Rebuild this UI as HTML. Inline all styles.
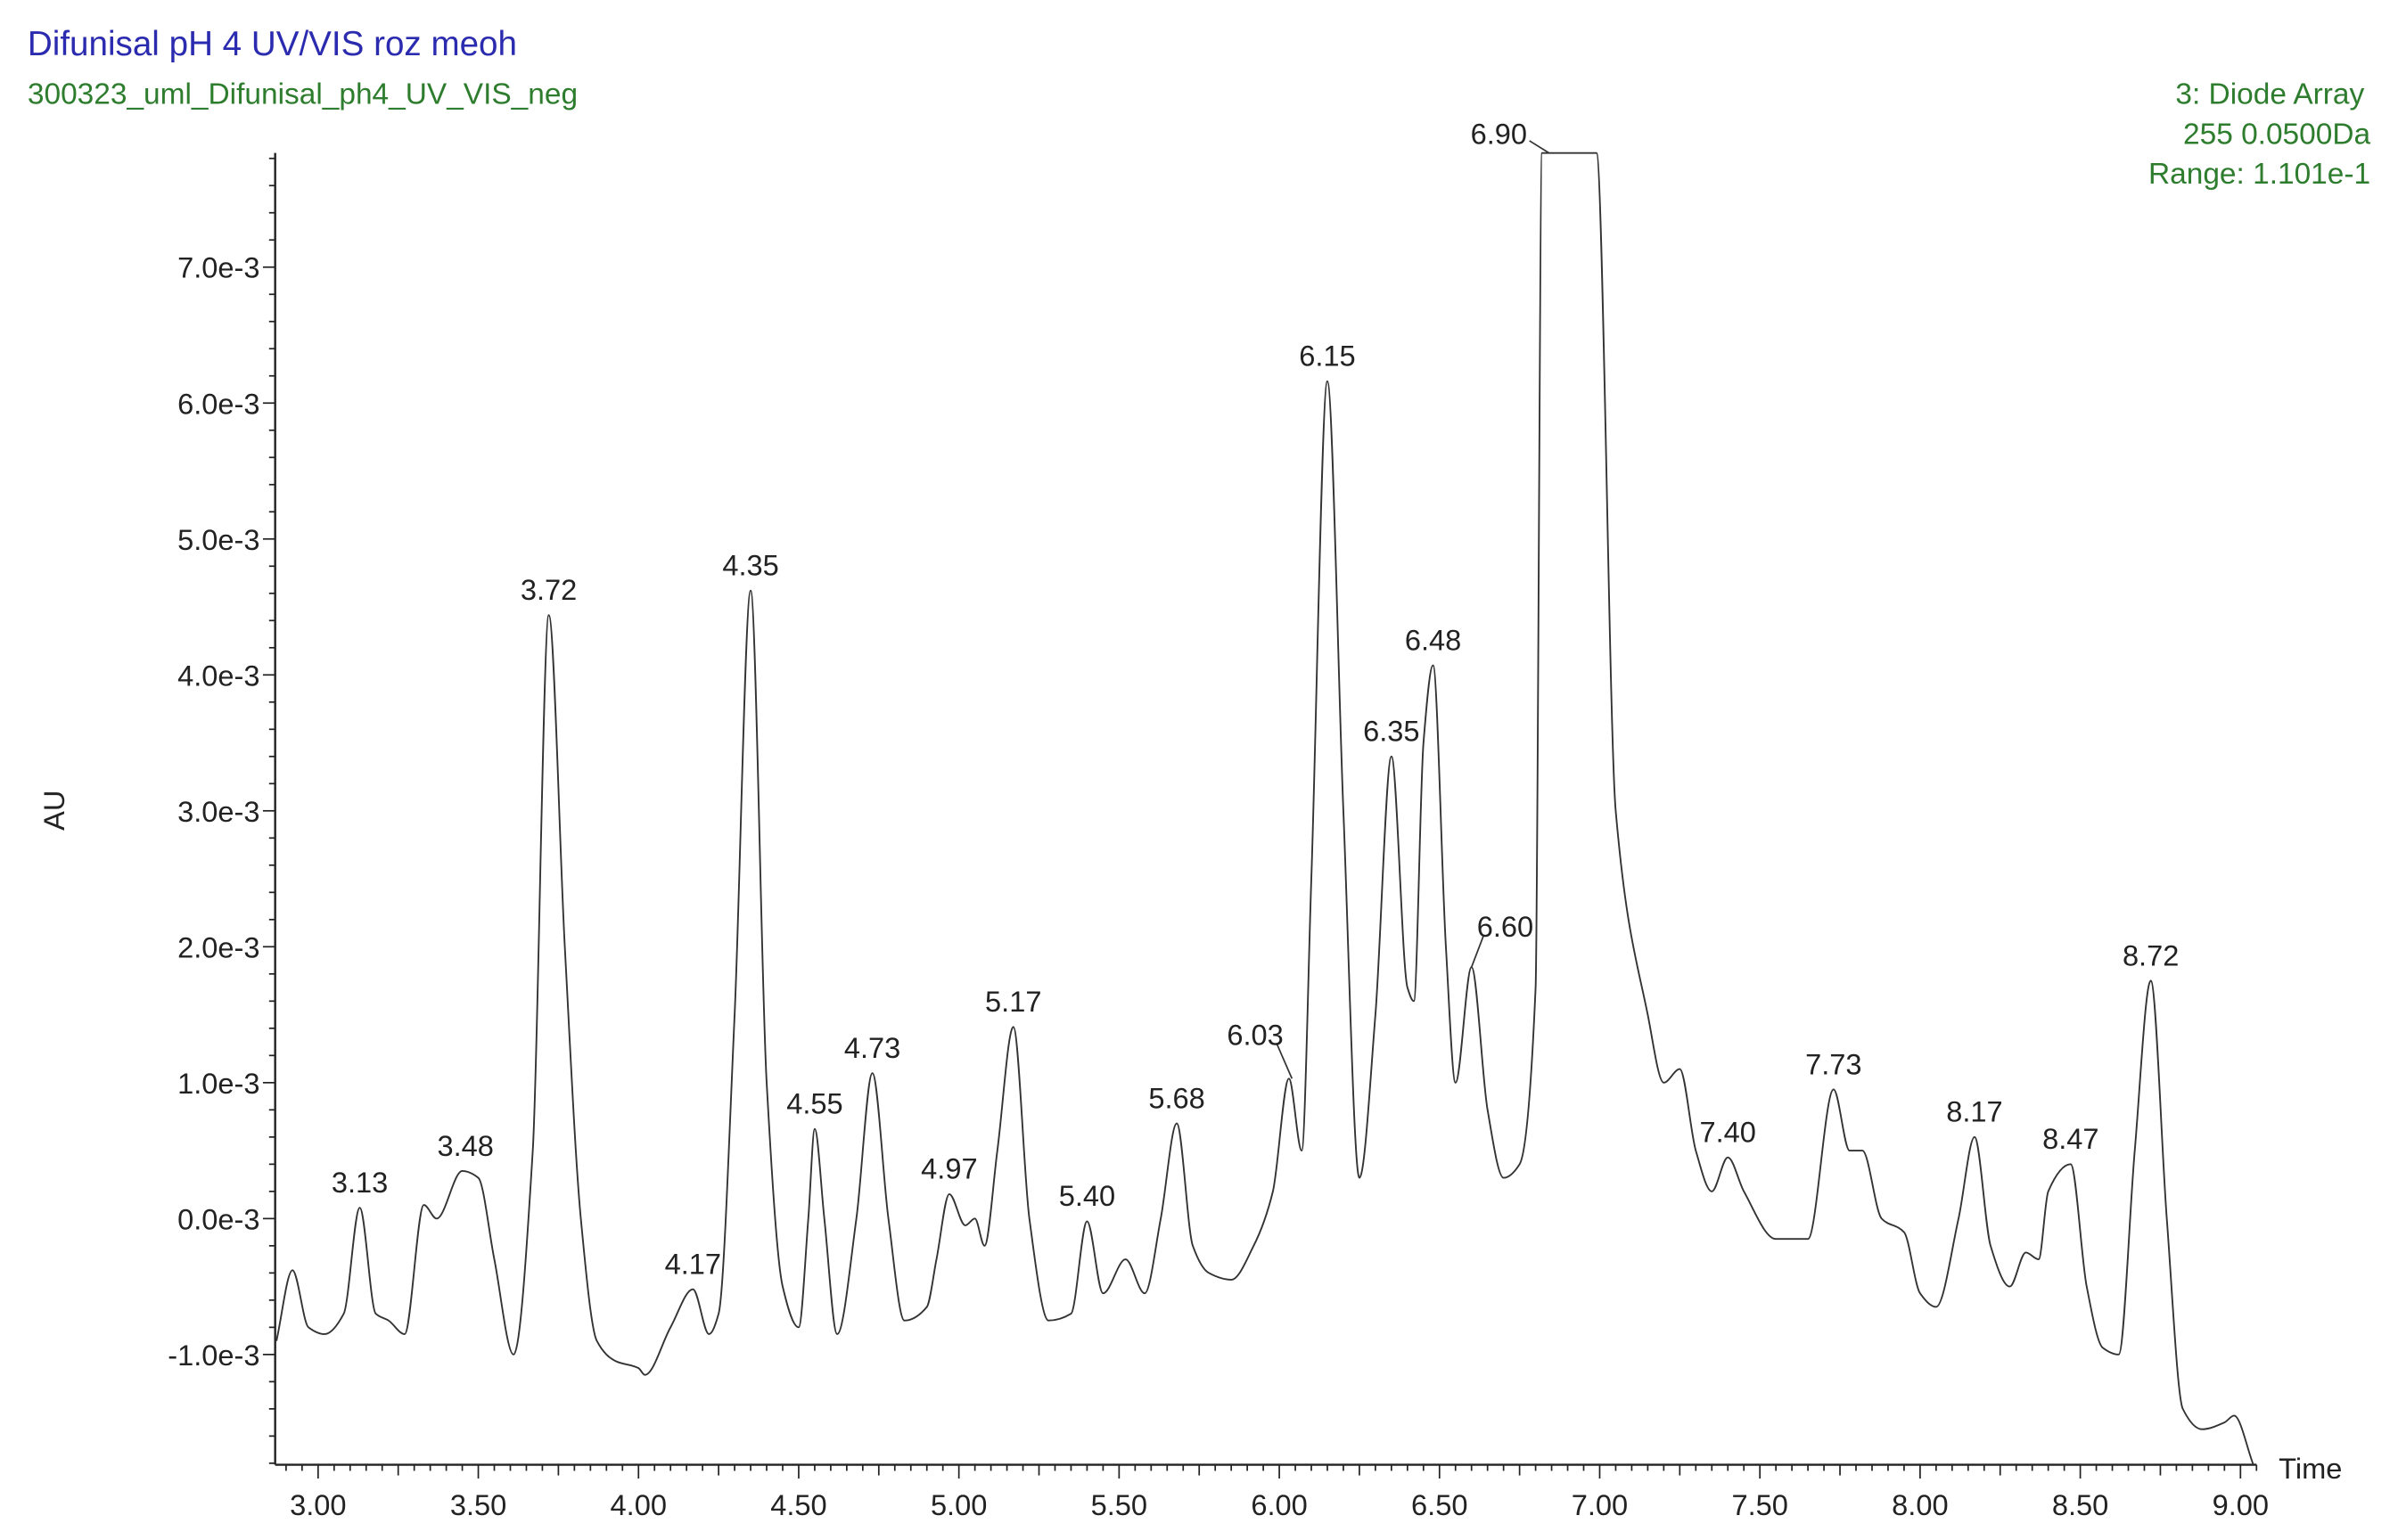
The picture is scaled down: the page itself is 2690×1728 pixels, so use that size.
<!DOCTYPE html>
<html><head><meta charset="utf-8"><style>
html,body{margin:0;padding:0;background:#fff;}
svg{display:block;font-family:"Liberation Sans",Arial,sans-serif;}
</style></head><body>
<svg id="chart" width="2690" height="1728" viewBox="0 0 1568 1007.2" xmlns="http://www.w3.org/2000/svg">
<text x="18" y="36" font-size="22.5" fill="#2b2bb0">Difunisal pH 4 UV/VIS roz meoh</text>
<text x="18" y="68" font-size="19.5" fill="#2e7d2e">300323_uml_Difunisal_ph4_UV_VIS_neg</text>
<text x="1546" y="68" font-size="19.5" fill="#2e7d2e" text-anchor="end">3: Diode Array</text>
<text x="1550" y="94" font-size="19.5" fill="#2e7d2e" text-anchor="end">255 0.0500Da</text>
<text x="1550" y="120" font-size="19.5" fill="#2e7d2e" text-anchor="end">Range: 1.101e-1</text>
<text transform="translate(42,530) rotate(-90)" font-size="19" fill="#222" text-anchor="middle">AU</text>
<text x="1490" y="967" font-size="19" fill="#222">Time</text>
<g id="axes"></g>
<g id="series"></g>
<g id="peaks"></g>
</svg>
<script>
const times=[2.87,2.92,2.97,3.02,3.08,3.13,3.18,3.22,3.27,3.33,3.37,3.45,3.50,3.55,3.61,3.67,3.72,3.77,3.82,3.87,3.93,4.00,4.02,4.10,4.17,4.22,4.25,4.30,4.35,4.40,4.45,4.50,4.53,4.55,4.58,4.62,4.68,4.73,4.78,4.83,4.90,4.93,4.97,5.02,5.05,5.08,5.12,5.17,5.22,5.28,5.35,5.40,5.45,5.52,5.58,5.63,5.68,5.73,5.78,5.85,5.92,5.98,6.03,6.07,6.10,6.15,6.20,6.25,6.30,6.35,6.40,6.42,6.45,6.48,6.52,6.55,6.60,6.65,6.70,6.75,6.80,6.82,6.83,6.98,6.99,7.05,7.15,7.20,7.25,7.30,7.35,7.40,7.45,7.55,7.65,7.73,7.78,7.82,7.88,7.95,8.00,8.05,8.12,8.17,8.22,8.28,8.33,8.37,8.40,8.47,8.52,8.57,8.62,8.67,8.72,8.77,8.82,8.88,8.95,8.98,9.04];
const values=[-0.9,-0.38,-0.8,-0.85,-0.7,0.08,-0.7,-0.75,-0.85,0.1,0.0,0.35,0.3,-0.3,-1.0,0.5,4.44,2.0,0.0,-0.9,-1.05,-1.1,-1.15,-0.8,-0.52,-0.85,-0.7,1.5,4.62,1.0,-0.5,-0.8,0.0,0.66,0.0,-0.85,0.0,1.07,0.0,-0.75,-0.65,-0.3,0.18,-0.05,0.0,-0.2,0.5,1.41,0.0,-0.75,-0.7,-0.02,-0.55,-0.3,-0.55,0.0,0.7,-0.2,-0.4,-0.45,-0.2,0.2,1.03,0.5,2.5,6.16,3.0,0.3,1.5,3.4,1.7,1.6,3.5,4.07,2.0,1.0,1.85,0.8,0.3,0.4,1.7,7.84,7.84,7.84,7.84,3.0,1.5,1.0,1.1,0.5,0.2,0.45,0.2,-0.15,-0.15,0.95,0.5,0.5,0.0,-0.1,-0.55,-0.65,0.0,0.6,-0.2,-0.5,-0.25,-0.3,0.2,0.4,-0.5,-0.95,-1.0,0.5,1.75,0.0,-1.4,-1.55,-1.5,-1.45,-1.81];
const peakLabels=["3.13","3.48","3.72","4.17","4.35","4.55","4.73","4.97","5.17","5.40","5.68","6.03","6.15","6.35","6.48","6.60","6.90","7.40","7.73","8.17","8.47","8.72"];
const peakTimes=[3.13,3.46,3.72,4.17,4.35,4.55,4.73,4.97,5.17,5.40,5.68,6.03,6.15,6.35,6.48,6.60,6.90,7.40,7.73,8.17,8.47,8.72];
const peakValues=[0.08,0.35,4.44,-0.52,4.62,0.66,1.07,0.18,1.41,-0.02,0.7,1.03,6.16,3.4,4.07,1.85,7.84,0.45,0.95,0.6,0.4,1.75];
const xTicks=[3.0,3.5,4.0,4.5,5.0,5.5,6.0,6.5,7.0,7.5,8.0,8.5,9.0];
const yTicks=[-1,0,1,2,3,4,5,6,7];

const NS="http://www.w3.org/2000/svg";
function X(t){return 208+(t-3)*209.5;}
function Y(v){return 797-v*88.9;}
function mk(tag,attrs,parent){const e=document.createElementNS(NS,tag);for(const k in attrs)e.setAttribute(k,attrs[k]);parent.appendChild(e);return e;}
const axes=document.getElementById('axes');
const x0=X(2.866),x1=X(9.05),yb=958,yt=100;
let a=mk('line',{x1:x0,y1:yb,x2:x1,y2:yb,stroke:'#222','stroke-width':1.4},axes);


a=mk('line',{x1:x0,y1:yb,x2:x0,y2:yt,stroke:'#222','stroke-width':1.4},axes);


for(let i=0;;i++){const t=2.9+i*0.05;if(t>9.05)break;const r=Math.round(t*100);
 const len=(r%50===0)?9:((r%25===0)?7:4);
 mk('line',{x1:X(t),y1:yb,x2:X(t),y2:yb+len,stroke:'#222','stroke-width':1},axes);}
xTicks.forEach(t=>{const e=mk('text',{x:X(t),y:991,'font-size':19,'text-anchor':'middle',fill:'#222'},axes);e.textContent=t.toFixed(2);
 
 });
for(let i=0;;i++){const v=-1.8+i*0.2;if(v>7.9)break;const r=Math.round(v*10);
 const len=(r%10===0)?8:((r%5===0)?6:4);
 mk('line',{x1:x0-len,y1:Y(v),x2:x0,y2:Y(v),stroke:'#222','stroke-width':1},axes);}
yTicks.forEach(v=>{const e=mk('text',{x:x0-10,y:Y(v)+7,'font-size':19,'text-anchor':'end',fill:'#222'},axes);e.textContent=v.toFixed(1)+'e-3';
 
 });
// monotone cubic (Fritsch-Carlson) path
const px=times.map(X), py=values.map(Y), n=px.length;
const dl=[],m=new Array(n);
for(let i=0;i<n-1;i++)dl.push((py[i+1]-py[i])/(px[i+1]-px[i]));
m[0]=dl[0];m[n-1]=dl[n-2];
for(let i=1;i<n-1;i++){ if(dl[i-1]*dl[i]<=0)m[i]=0; else { const w1=2*(px[i+1]-px[i])+(px[i]-px[i-1]), w2=(px[i+1]-px[i])+2*(px[i]-px[i-1]); m[i]=(w1+w2)/(w1/dl[i-1]+w2/dl[i]); } }
let d='M'+px[0]+','+py[0];
for(let i=0;i<n-1;i++){const h=(px[i+1]-px[i])/3;
 d+=' C'+(px[i]+h)+','+(py[i]+m[i]*h)+' '+(px[i+1]-h)+','+(py[i+1]-m[i+1]*h)+' '+px[i+1]+','+py[i+1];}
const path=mk('path',{d:d,fill:'none',stroke:'#333','stroke-width':1.1},document.getElementById('series'));


const pk=document.getElementById('peaks');
peakLabels.forEach((lab,i)=>{let lx=X(peakTimes[i]),ly=Y(peakValues[i])-10;
 if(lab==="6.90"){lx=X(6.90)-45;ly=Y(peakValues[i])-6;mk('line',{x1:lx+20,y1:ly-2,x2:X(6.88)-8,y2:Y(peakValues[i]),stroke:'#333','stroke-width':1},pk);}
 if(lab==="6.60"){lx=X(6.60)+22;ly=Y(peakValues[i])-20;mk('line',{x1:lx-14,y1:ly-1,x2:X(6.60),y2:Y(peakValues[i]),stroke:'#333','stroke-width':1},pk);}
 if(lab==="6.03"){lx=X(6.03)-22;ly=Y(peakValues[i])-22;mk('line',{x1:lx+14,y1:ly-1,x2:X(6.03)+2,y2:Y(peakValues[i]),stroke:'#333','stroke-width':1},pk);}
 const e=mk('text',{x:lx,y:ly,'font-size':19,'text-anchor':'middle',fill:'#222'},pk);e.textContent=lab;
 
 });
</script>
</body></html>
